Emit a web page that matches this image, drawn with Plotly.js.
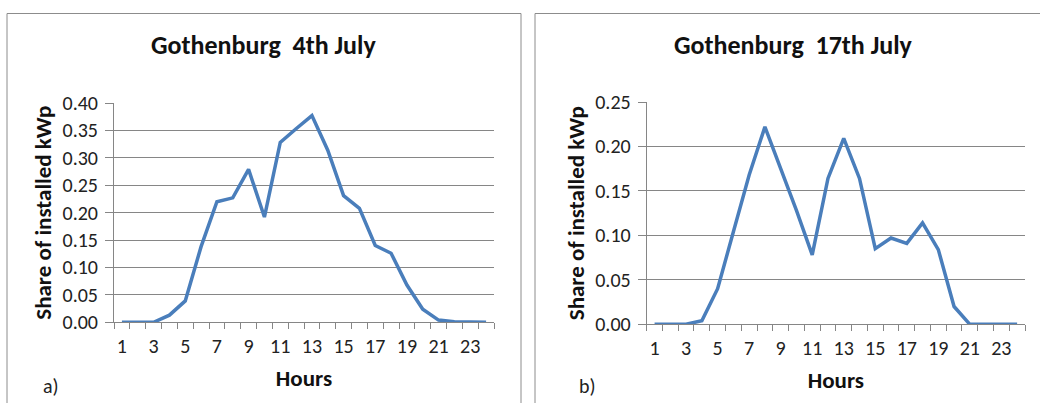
<!DOCTYPE html>
<html>
<head>
<meta charset="utf-8">
<script src="https://cdn.plot.ly/plotly-3.0.1.min.js"></script>
<style>html,body{margin:0;padding:0;background:#fff;}#chart{width:1040px;height:403px;}</style>
</head>
<body>
<div id="chart"></div>
<script>
const hours = [1,2,3,4,5,6,7,8,9,10,11,12,13,14,15,16,17,18,19,20,21,22,23,24];
const july4 = [0,0,0,0.013,0.039,0.138,0.220,0.227,0.279,0.192,0.328,0.353,0.377,0.314,0.231,0.208,0.140,0.126,0.068,0.024,0.004,0.001,0,0];
const july17 = [0,0,0,0.004,0.040,0.104,0.168,0.222,0.175,0.128,0.078,0.164,0.209,0.164,0.085,0.097,0.091,0.114,0.084,0.020,0,0,0,0];
const xTickVals = [1,3,5,7,9,11,13,15,17,19,21,23];
const xTickText = ['1','3','5','7','9','11','13','15','17','19','21','23'];
const titleA = 'Gothenburg\u00A0 4th July';
const titleB = 'Gothenburg\u00A0 17th July';
const yTitle = 'Share of installed kWp';
const xTitle = 'Hours';

const FONT = 'Carlito, Calibri, Lato, sans-serif';
const GRID = '#868686';
const LINE = '#4a7ebb';

function xAxis(domain, anchor) {
  return {
    domain: domain, anchor: anchor, range: [0.5, 24.5], fixedrange: true,
    tickmode: 'array', tickvals: xTickVals, ticktext: xTickText,
    ticks: 'outside', ticklen: 6, tickcolor: 'rgba(0,0,0,0)', showgrid: false, zeroline: false,
    showline: true, linecolor: GRID, linewidth: 1,
    tickfont: {family: FONT, size: 20, color: '#222'},
    minor: {tickmode: 'linear', tick0: 0.5, dtick: 1, ticks: 'outside', ticklen: 6, tickcolor: GRID, tickwidth: 1, showgrid: false},
    title: {text: '<b>' + xTitle + '</b>', font: {family: FONT, size: 23, color: '#111'}, standoff: 12},
    automargin: false
  };
}
function yAxis(domain, anchor, max) {
  return {
    domain: domain, anchor: anchor, range: [0, max], fixedrange: true,
    tickmode: 'linear', tick0: 0, dtick: 0.05, tickformat: '.2f',
    ticks: 'outside', ticklen: 8, tickcolor: GRID, tickwidth: 1,
    ticklabelstandoff: 3,
    showgrid: true, gridcolor: GRID, gridwidth: 1,
    zeroline: false, showline: true, linecolor: GRID, linewidth: 1,
    tickfont: {family: FONT, size: 20, color: '#222'},
    title: {text: '<b>' + yTitle + '</b>', font: {family: FONT, size: 23, color: '#111'}, standoff: 4},
    automargin: false
  };
}

const data = [
  {x: hours, y: july4, type: 'scatter', mode: 'lines', line: {color: LINE, width: 3.5}, xaxis: 'x', yaxis: 'y', hoverinfo: 'x+y', showlegend: false},
  {x: hours, y: july17, type: 'scatter', mode: 'lines', line: {color: LINE, width: 3.5}, xaxis: 'x2', yaxis: 'y2', hoverinfo: 'x+y', showlegend: false}
];

const layout = {
  width: 1040, height: 403,
  margin: {l: 0, r: 0, t: 0, b: 0},
  paper_bgcolor: '#fff', plot_bgcolor: '#fff',
  showlegend: false,
  xaxis: xAxis([114/1040, 494/1040], 'y'),
  yaxis: yAxis([(403-322.3)/403, (403-103)/403], 'x', 0.40),
  xaxis2: xAxis([646.7/1040, 1025/1040], 'y2'),
  yaxis2: yAxis([(403-324.3)/403, (403-102)/403], 'x2', 0.25),
  shapes: [
    {type: 'rect', xref: 'paper', yref: 'paper', x0: 7/1040, x1: 521/1040, y0: -0.1, y1: (403-13.5)/403, line: {color: '#8c8c8c', width: 1}},
    {type: 'rect', xref: 'paper', yref: 'paper', x0: 535/1040, x1: 1.1, y0: -0.1, y1: (403-13.5)/403, line: {color: '#8c8c8c', width: 1}}
  ],
  annotations: [
    {text: '<b>' + titleA + '</b>', xref: 'paper', yref: 'paper', x: 263/1040, y: (403-45)/403, xanchor: 'center', yanchor: 'middle', showarrow: false, font: {family: FONT, size: 26, color: '#111'}},
    {text: '<b>' + titleB + '</b>', xref: 'paper', yref: 'paper', x: 793/1040, y: (403-45)/403, xanchor: 'center', yanchor: 'middle', showarrow: false, font: {family: FONT, size: 26, color: '#111'}},
    {text: 'a)', xref: 'paper', yref: 'paper', x: 51/1040, y: (403-386)/403, xanchor: 'center', yanchor: 'middle', showarrow: false, font: {family: FONT, size: 20, color: '#222'}},
    {text: 'b)', xref: 'paper', yref: 'paper', x: 587/1040, y: (403-386)/403, xanchor: 'center', yanchor: 'middle', showarrow: false, font: {family: FONT, size: 20, color: '#222'}}
  ]
};

Plotly.newPlot('chart', data, layout, {displayModeBar: false, staticPlot: true});
</script>
</body>
</html>
